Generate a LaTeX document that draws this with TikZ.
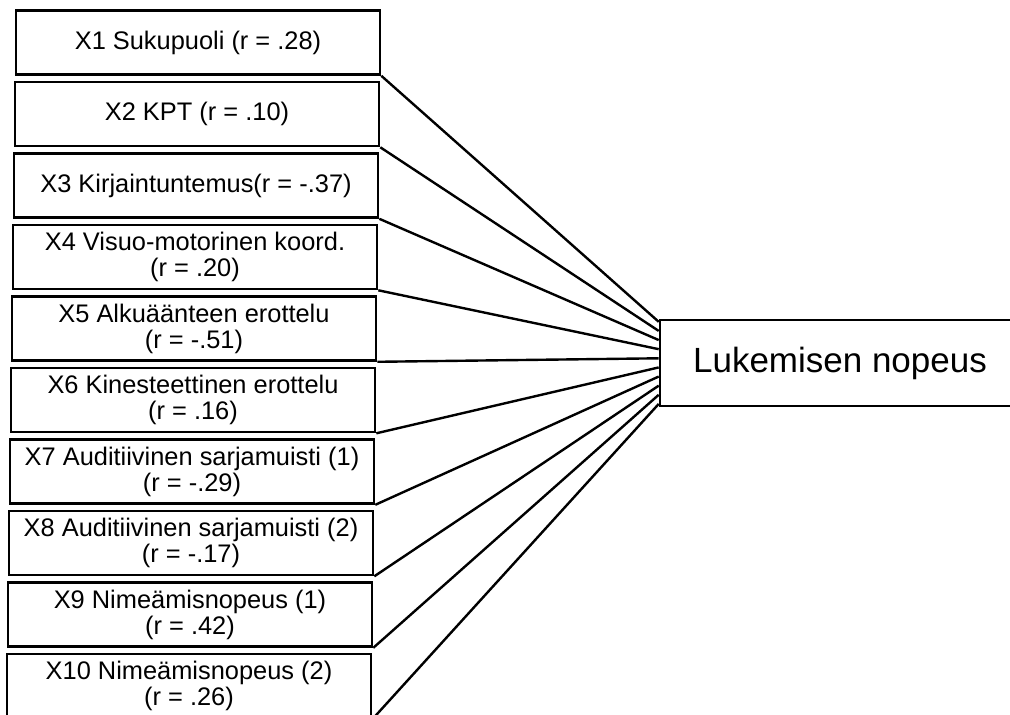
\documentclass[tikz,border=0pt]{standalone}
\usepackage{fontspec}
\setmainfont{Liberation Sans}
\usetikzlibrary{calc}
\begin{document}
\begin{tikzpicture}[
        x=0.5pt, y=-0.5pt,
        var/.style={draw, line width=1.3pt, minimum width=182pt, minimum height=32pt,
            inner sep=1pt, align=center, font=\fontsize{12.7}{13}\selectfont},
        outcome/.style={draw, line width=1.3pt, minimum width=180pt, minimum height=43pt,
            font=\fontsize{17.5}{20}\selectfont},
        link/.style={line width=1.2pt}
    ]
    \useasboundingbox (0,0) rectangle (1010,715);
    % predictors
    \node [var] (x1) at (198,42.5) {X1 Sukupuoli (r = .28)};
    \node [var] (x2) at (197,114) {X2 KPT (r = .10)};
    \node [var] (x3) at (196,185.5) {X3 Kirjaintuntemus(r = -.37)};
    \node [var] (x4) at (195,257) {X4 Visuo-motorinen koord.\\(r = .20)};
    \node [var] (x5) at (194,328.5) {X5 Alkuäänteen erottelu\\(r = -.51)};
    \node [var] (x6) at (193,400) {X6 Kinesteettinen erottelu\\(r = .16)};
    \node [var] (x7) at (192,471.5) {X7 Auditiivinen sarjamuisti (1)\\(r = -.29)};
    \node [var] (x8) at (191,543) {X8 Auditiivinen sarjamuisti (2)\\(r = -.17)};
    \node [var] (x9) at (190,614.5) {X9 Nimeämisnopeus (1)\\(r = .42)};
    \node [var] (x10) at (189,686) {X10 Nimeämisnopeus (2)\\(r = .26)};
    % outcome
    \node [outcome] (y) at (840,363) {Lukemisen nopeus};
    \foreach \i in {1,...,10}
        \draw [link] (x\i.south east) -- ($(y.north west)!{0.035+0.103*(\i-1)}!(y.south west)$);
\end{tikzpicture}
\end{document}
